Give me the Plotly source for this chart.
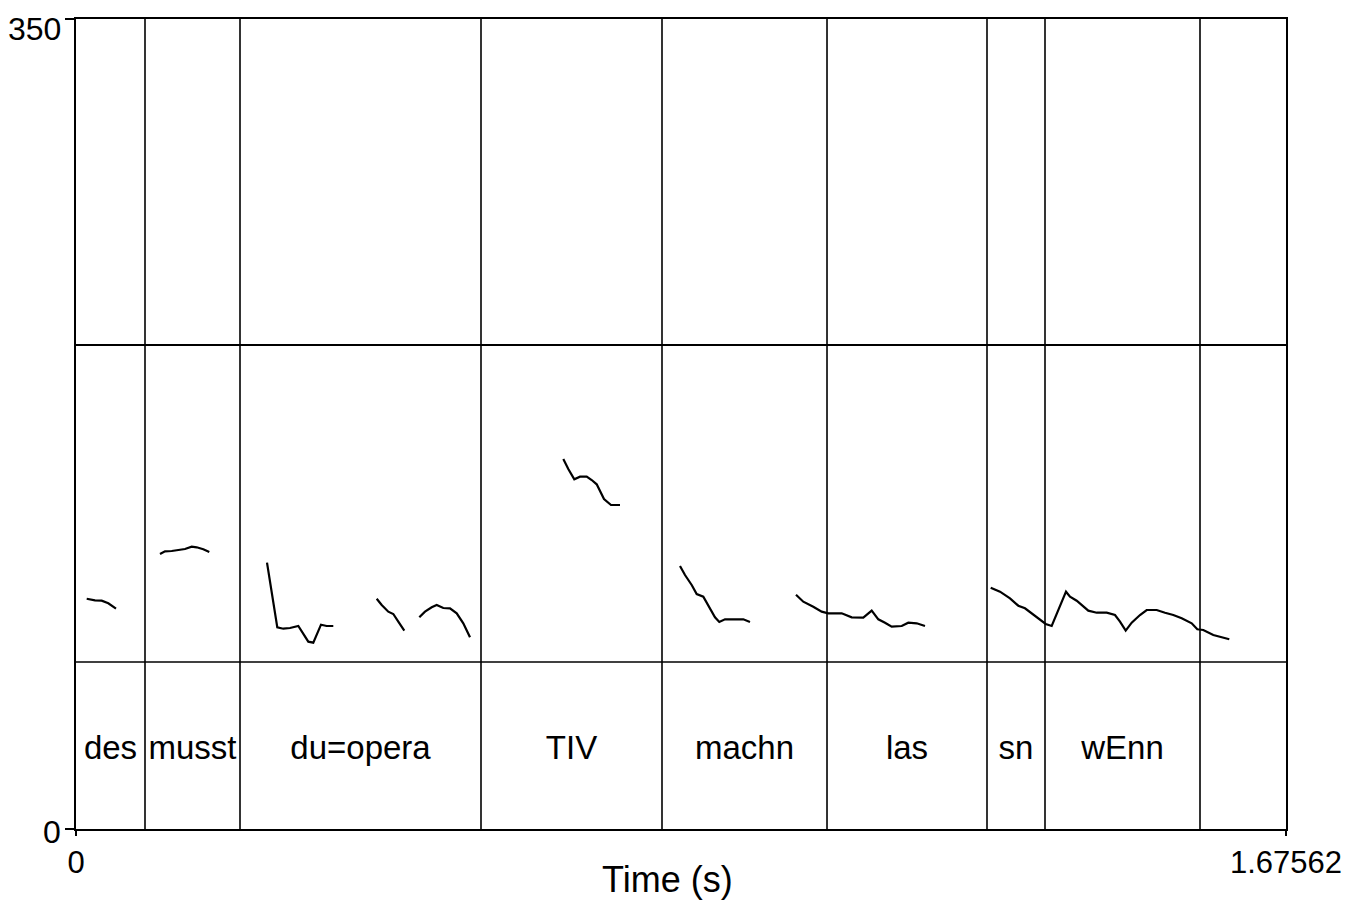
import plotly.graph_objects as go

# ---- data ----
t_min, t_max = 0.0, 1.67562
f_min, f_max = 0, 350

# interval boundaries of the text tier (s)
boundaries = [0.09555, 0.22711, 0.56085, 0.81150, 1.04001, 1.26156, 1.34188, 1.55653]
# labels of the intervals (start .. end)
words = ["des", "musst", "du=opera", "TIV", "machn", "las", "sn", "wEnn", ""]

# horizontal separators
h_lines = [209.14, 72.16]

# pitch contour segments (time s, value)
seg_t = [
    [0.01482, 0.02631, 0.03559, 0.04473, 0.05539],
    [0.11632, 0.12325, 0.13253, 0.13945, 0.15094, 0.16022, 0.16714, 0.17628, 0.18459],
    [0.26450, 0.27142, 0.27876, 0.28707, 0.29635, 0.30784, 0.31394, 0.32169, 0.32862,
     0.33333, 0.33928, 0.34717, 0.35631],
    [0.41641, 0.42334, 0.43248, 0.43940, 0.44632, 0.45463],
    [0.47541, 0.48330, 0.49258, 0.49950, 0.50864, 0.51792, 0.52720, 0.53634, 0.54562],
    [0.67482, 0.68174, 0.69005, 0.69794, 0.70722, 0.71415, 0.72107, 0.72564, 0.73118,
     0.74087, 0.75334],
    [0.83643, 0.84335, 0.85263, 0.85955, 0.86869, 0.87797, 0.88489, 0.89085, 0.89874,
     0.91023, 0.92408, 0.93336],
    [0.99706, 1.00717, 1.02101, 1.03265, 1.04179, 1.06034, 1.07419, 1.09026, 1.10189,
     1.11103, 1.12031, 1.12959, 1.14343, 1.15257, 1.16420, 1.17570],
    [1.26669, 1.27956, 1.29341, 1.30491, 1.31418, 1.32346, 1.33496, 1.34285, 1.35116,
     1.35808, 1.37096, 1.37650, 1.38578, 1.40184, 1.41348, 1.42732, 1.43882, 1.44574,
     1.45364, 1.46194, 1.47344, 1.48272, 1.49656, 1.50806, 1.51955, 1.53119, 1.54503,
     1.55279, 1.56110, 1.57494, 1.58657, 1.59710],
]
seg_f = [
    [99.51, 98.82, 98.65, 97.53, 95.19],
    [118.83, 119.99, 120.12, 120.56, 120.99, 121.98, 121.72, 120.86, 119.69],
    [115.07, 101.85, 87.15, 86.55, 86.85, 87.72, 84.56, 80.93, 80.50, 83.83, 88.28,
     87.72, 87.72],
    [99.51, 96.79, 93.90, 92.90, 89.57, 85.69],
    [91.48, 93.90, 95.80, 96.79, 95.49, 95.36, 93.20, 88.88, 82.83],
    [159.88, 155.56, 151.10, 152.23, 152.23, 150.80, 148.94, 146.18, 142.59, 140.00,
     140.00],
    [113.64, 109.75, 105.43, 101.54, 100.38, 95.36, 91.48, 89.44, 90.61, 90.61, 90.61,
     89.44],
    [101.24, 98.22, 96.06, 93.90, 93.20, 93.20, 91.48, 91.30, 94.33, 90.61, 89.14,
     87.41, 87.72, 89.14, 88.88, 87.72],
    [104.27, 102.54, 99.68, 96.49, 95.36, 93.20, 90.61, 88.58, 87.72, 93.20, 102.54,
     100.38, 98.65, 94.33, 93.46, 93.46, 92.47, 89.57, 85.69, 89.14, 92.47, 94.63,
     94.63, 93.46, 92.47, 91.04, 88.88, 86.29, 85.99, 83.83, 82.83, 81.97],
]

x_tick_vals = [t_min, t_max]
x_tick_text = ["0", "1.67562"]
y_tick_vals = [f_min, f_max]
y_tick_text = ["0", "350"]
x_title = "Time (s)"

# ---- build ----
FONT = "Liberation Sans, Arial, Helvetica, sans-serif"
label_y = 34.0

pt, pf = [], []
for ts, fs in zip(seg_t, seg_f):
    pt += ts + [None]
    pf += fs + [None]

edges = [t_min] + boundaries + [t_max]
centers = [(edges[i] + edges[i + 1]) / 2 for i in range(len(words))]

fig = go.Figure()
fig.add_trace(go.Scatter(x=pt, y=pf, mode="lines",
                         line=dict(color="black", width=2.2), connectgaps=False,
                         showlegend=False, hoverinfo="skip"))
fig.add_trace(go.Scatter(x=centers, y=[label_y] * len(words), mode="text",
                         text=words, textfont=dict(family=FONT, size=33, color="black"),
                         textposition="middle center", showlegend=False))

for b in boundaries:
    fig.add_shape(type="line", xref="x", yref="y", x0=b, x1=b, y0=f_min, y1=f_max,
                  line=dict(color="black", width=1.6), layer="above")
for i, h in enumerate(h_lines):
    fig.add_shape(type="line", xref="x", yref="y", x0=t_min, x1=t_max, y0=h, y1=h,
                  line=dict(color="black", width=2 if i == 0 else 1.3), layer="above")

# y tick labels as annotations (the top one sits at the very edge of the page)
for v, s in zip(y_tick_vals, y_tick_text):
    top = v == f_max
    fig.add_annotation(text=s, xref="paper", yref="y", x=0, y=v,
                       xanchor="right", yanchor="top" if top else "middle",
                       xshift=-13, yshift=10 if top else -3,
                       showarrow=False, font=dict(size=32, family=FONT, color="black"))

fig.add_annotation(text=x_title, xref="paper", yref="paper", x=0.5, y=0,
                   xanchor="center", yanchor="middle", xshift=-14, yshift=-50,
                   showarrow=False,
                   font=dict(size=36, family=FONT, color="black"))

# page body has an 8px default margin: the figure is offset by 8px
fig.update_layout(
    width=1344, height=911,
    margin=dict(l=68, r=66, t=11, b=90),
    paper_bgcolor="white", plot_bgcolor="white",
    font=dict(family=FONT, color="black"),
    showlegend=False,
)
fig.update_xaxes(range=[t_min, t_max], showgrid=False, zeroline=False, automargin=False,
                 showline=True, linecolor="black", linewidth=2, mirror=True,
                 tickvals=x_tick_vals, ticktext=x_tick_text,
                 ticks="outside", ticklen=5, tickwidth=2, tickcolor="black",
                 tickfont=dict(size=31, family=FONT), ticklabelstandoff=0)
fig.update_yaxes(range=[f_min, f_max], showgrid=False, zeroline=False, automargin=False,
                 showline=True, linecolor="black", linewidth=2, mirror=True,
                 tickvals=y_tick_vals, showticklabels=False,
                 ticks="outside", ticklen=9, tickwidth=1.5, tickcolor="black")

fig.write_html("out.html")
